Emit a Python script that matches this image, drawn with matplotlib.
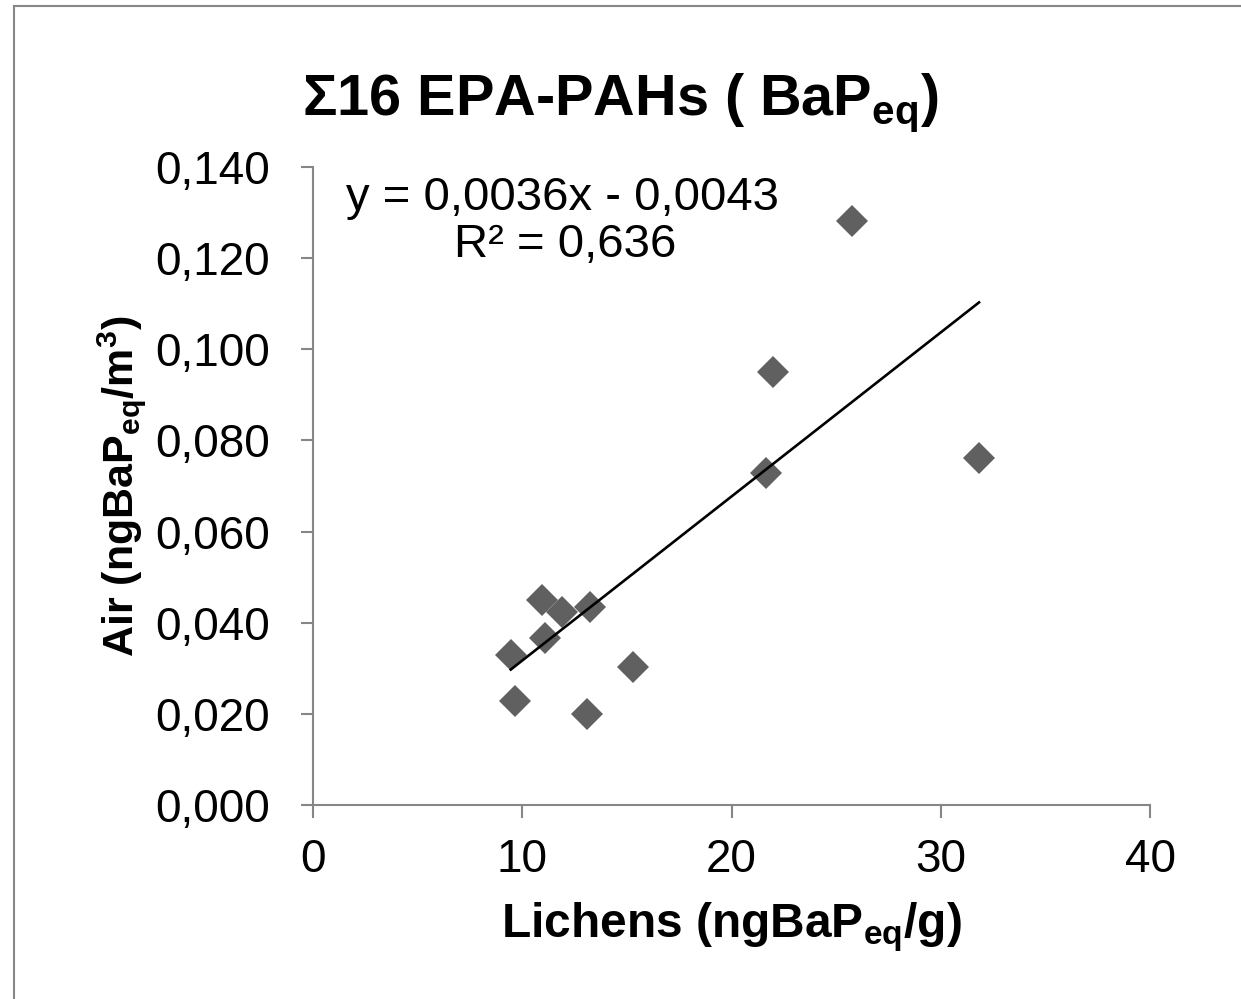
import matplotlib
matplotlib.use('Agg')
import matplotlib.pyplot as plt
from matplotlib.lines import Line2D

plt.rcParams['font.family'] = ['Liberation Sans', 'DejaVu Sans']
plt.rcParams['mathtext.fontset'] = 'custom'
plt.rcParams['mathtext.rm'] = 'Liberation Sans'
plt.rcParams['mathtext.bf'] = 'Liberation Sans:bold'

# lichens vs air, BaP equivalents
lichens = [9.45, 9.65, 10.93, 11.09, 11.89, 13.24, 13.08, 15.31, 21.65, 21.97, 25.74, 31.83]
air = [0.0329, 0.0228, 0.0450, 0.0366, 0.0424, 0.0435, 0.0200, 0.0302, 0.0728, 0.0950, 0.1282, 0.0761]

slope = 0.0036
intercept = -0.0043

x_ticks = [0, 10, 20, 30, 40]
y_ticks = [0.0, 0.02, 0.04, 0.06, 0.08, 0.10, 0.12, 0.14]
y_tick_labels = ['0,000', '0,020', '0,040', '0,060', '0,080', '0,100', '0,120', '0,140']

W, H = 1241, 999
fig = plt.figure(figsize=(W / 100, H / 100), dpi=100)
ax = fig.add_axes([313 / W, 194 / H, 837 / W, 638 / H])

ax.plot(lichens, air, linestyle='none', marker='D', markersize=16.5,
        color='#606060', markeredgewidth=0)

x0, x1 = min(lichens), max(lichens)
ax.plot([x0, x1], [slope * x0 + intercept, slope * x1 + intercept],
        color='black', lw=1.9)

ax.set_xlim(0, 40)
ax.set_ylim(0, 0.14)
ax.set_xticks(x_ticks)
ax.set_xticklabels([str(t) for t in x_ticks])
ax.set_yticks(y_ticks)
ax.set_yticklabels(y_tick_labels)

for side in ['top', 'right']:
    ax.spines[side].set_visible(False)
for side in ['left', 'bottom']:
    ax.spines[side].set_color('#868686')
    ax.spines[side].set_linewidth(1.5)
ax.tick_params(axis='both', direction='out', length=9, width=1.5,
               color='#868686', labelsize=33)
ax.tick_params(axis='y', pad=22)
ax.tick_params(axis='x', pad=15)

ax.set_xlabel(r'Lichens (ngBaP$_{\mathbf{eq}}$/g)', fontsize=34.5,
              fontweight='bold', labelpad=13)
ax.set_ylabel(r'Air (ngBaP$_{\mathbf{eq}}$/m$^{\mathbf{3}}$)', fontsize=31,
              fontweight='bold', labelpad=5)

fig.text(0.5, 1 - 115 / H, r'Σ16 EPA-PAHs ( BaP$_{\mathbf{eq}}$)', fontsize=41.5,
         fontweight='bold', ha='center', va='baseline')

fig.text(563 / W, 1 - 198 / H, 'y = 0,0036x - 0,0043',
         fontsize=34, ha='center', va='center')
fig.text(565 / W, 1 - 245 / H, 'R² = 0,636',
         fontsize=34, ha='center', va='center')

# outer chart frame (only top and left edges visible)
fig.add_artist(Line2D([14 / W, 14 / W], [0, 1 - 6 / H],
                      color='#888888', lw=1.5, transform=fig.transFigure))
fig.add_artist(Line2D([14 / W, 1], [1 - 6 / H, 1 - 6 / H],
                      color='#888888', lw=1.5, transform=fig.transFigure))

fig.savefig('out.png', dpi=100)
